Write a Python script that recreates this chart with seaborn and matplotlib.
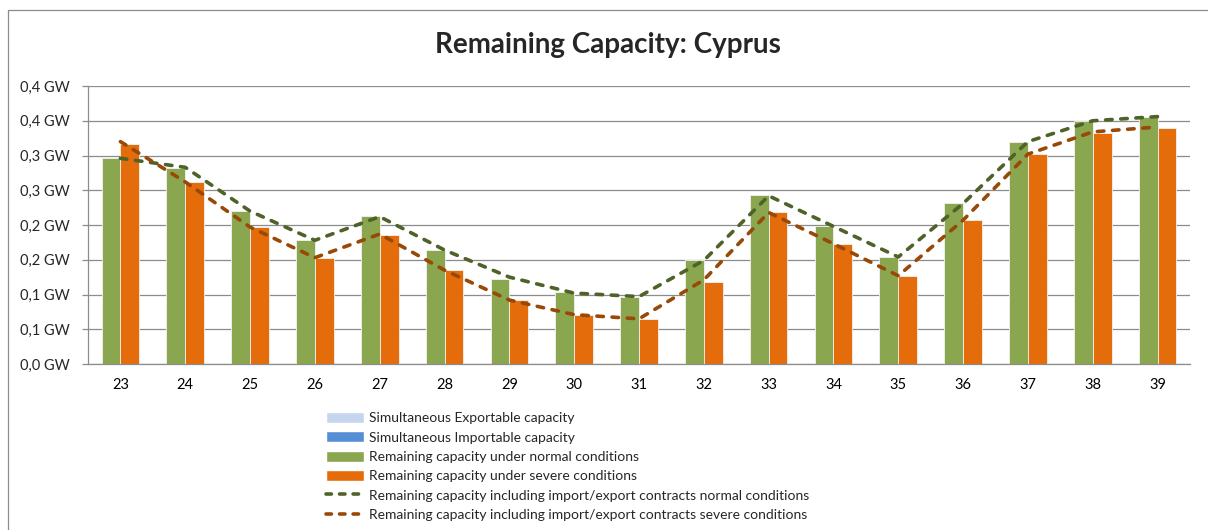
import matplotlib
matplotlib.use("Agg")
import matplotlib.pyplot as plt
import seaborn as sns
import numpy as np
import pandas as pd
from matplotlib.patches import Patch
from matplotlib.lines import Line2D

# week numbers on the x axis
weeks = ["23", "24", "25", "26", "27", "28", "29", "30", "31",
         "32", "33", "34", "35", "36", "37", "38", "39"]

# remaining capacity in GW
normal = [0.296, 0.282, 0.220, 0.178, 0.213, 0.164, 0.122, 0.103, 0.097,
          0.149, 0.243, 0.198, 0.154, 0.231, 0.320, 0.350, 0.356]
severe = [0.317, 0.262, 0.197, 0.153, 0.186, 0.135, 0.092, 0.071, 0.065,
          0.118, 0.219, 0.173, 0.126, 0.207, 0.302, 0.332, 0.340]

# including import/export contracts
contracts_normal = [0.296, 0.283, 0.220, 0.178, 0.212, 0.164, 0.125, 0.102, 0.097,
                    0.149, 0.242, 0.198, 0.154, 0.231, 0.320, 0.350, 0.356]
contracts_severe = [0.320, 0.262, 0.197, 0.153, 0.187, 0.135, 0.092, 0.071, 0.065,
                    0.121, 0.218, 0.173, 0.127, 0.207, 0.302, 0.334, 0.341]

ytick_values = [0.0, 0.05, 0.10, 0.15, 0.20, 0.25, 0.30, 0.35, 0.40]
ytick_labels = ["0,0 GW", "0,1 GW", "0,1 GW", "0,2 GW", "0,2 GW",
                "0,3 GW", "0,3 GW", "0,4 GW", "0,4 GW"]

labels = ["Simultaneous Exportable capacity",
          "Simultaneous Importable capacity",
          "Remaining capacity under normal conditions",
          "Remaining capacity under severe conditions",
          "Remaining capacity including import/export contracts normal conditions",
          "Remaining capacity including import/export contracts severe conditions"]

GREEN = "#8aa64f"
ORANGE = "#e46c0a"
DGREEN = "#4f6228"
DORANGE = "#984807"
GRID = "#8c8c8c"

sns.set_style("white")
plt.rcParams["font.family"] = ["Lato", "DejaVu Sans"]

df = pd.DataFrame({
    "week": weeks * 2,
    "value": normal + severe,
    "series": [labels[2]] * len(weeks) + [labels[3]] * len(weeks),
})

fig = plt.figure(figsize=(12.08, 5.30), dpi=100)
ax = fig.add_axes([88 / 1208, 1 - 364 / 530, (1190 - 88) / 1208, (364 - 86) / 530])

sns.barplot(data=df, x="week", y="value", hue="series", order=weeks,
            palette=[GREEN, ORANGE], saturation=1, width=0.58, legend=False,
            ax=ax, edgecolor="#f2f2f2", linewidth=0.6)

x = np.arange(len(weeks))
dash = (0, (1.8, 2.4))
ax.plot(x, contracts_normal, color=DGREEN, lw=2.6, ls=dash,
        dash_capstyle="round", zorder=4)
ax.plot(x, contracts_severe, color=DORANGE, lw=2.6, ls=dash,
        dash_capstyle="round", zorder=4)

ax.set_xlim(-0.5, len(weeks) - 0.5)
ax.set_ylim(0, 0.4)
ax.set_yticks(ytick_values)
ax.set_yticklabels(ytick_labels)
ax.yaxis.grid(True, color=GRID, lw=0.9)
ax.set_axisbelow(True)
ax.set_xlabel("")
ax.set_ylabel("")

ax.set_xticks(x)
ax.set_xticklabels(weeks)
ax.set_xticks(np.arange(len(weeks) + 1) - 0.5, minor=True)
ax.tick_params(axis="x", which="major", length=0, pad=10, labelsize=10.5, colors="black")
ax.tick_params(axis="x", which="minor", length=4, width=0.9, color=GRID, direction="out")
ax.tick_params(axis="y", length=4, width=0.9, color=GRID, pad=9, labelsize=10.5,
               direction="out", left=True)

for s in ["top", "right"]:
    ax.spines[s].set_visible(False)
for s in ["left", "bottom"]:
    ax.spines[s].set_color(GRID)
    ax.spines[s].set_linewidth(0.9)

fig.text(0.503, 1 - 45 / 530, "Remaining Capacity: Cyprus", ha="center", va="center",
         fontsize=20, fontweight="bold")

# chart frame (top and left edges are inside the picture)
fig.add_artist(Line2D([8 / 1208, 1], [1 - 10 / 530, 1 - 10 / 530],
                      transform=fig.transFigure, color=GRID, lw=0.9))
fig.add_artist(Line2D([8 / 1208, 8 / 1208], [0, 1 - 10 / 530],
                      transform=fig.transFigure, color=GRID, lw=0.9))

legend_dash = (0, (1.5, 2.25))
handles = [Patch(facecolor="#c6d5ee", label=labels[0]),
           Patch(facecolor="#558ed5", label=labels[1]),
           Patch(facecolor=GREEN, label=labels[2]),
           Patch(facecolor=ORANGE, label=labels[3]),
           Line2D([], [], color=DGREEN, lw=2.6, ls=legend_dash,
                  dash_capstyle="round", label=labels[4]),
           Line2D([], [], color=DORANGE, lw=2.6, ls=legend_dash,
                  dash_capstyle="round", label=labels[5])]
fig.legend(handles=handles, loc="upper left", bbox_to_anchor=(326 / 1208, 1 - 412 / 530),
           frameon=False, fontsize=10, handlelength=2.7, handleheight=0.85,
           handletextpad=0.4, labelspacing=0.5, borderpad=0, borderaxespad=0)

plt.savefig("out.png", dpi=100)
